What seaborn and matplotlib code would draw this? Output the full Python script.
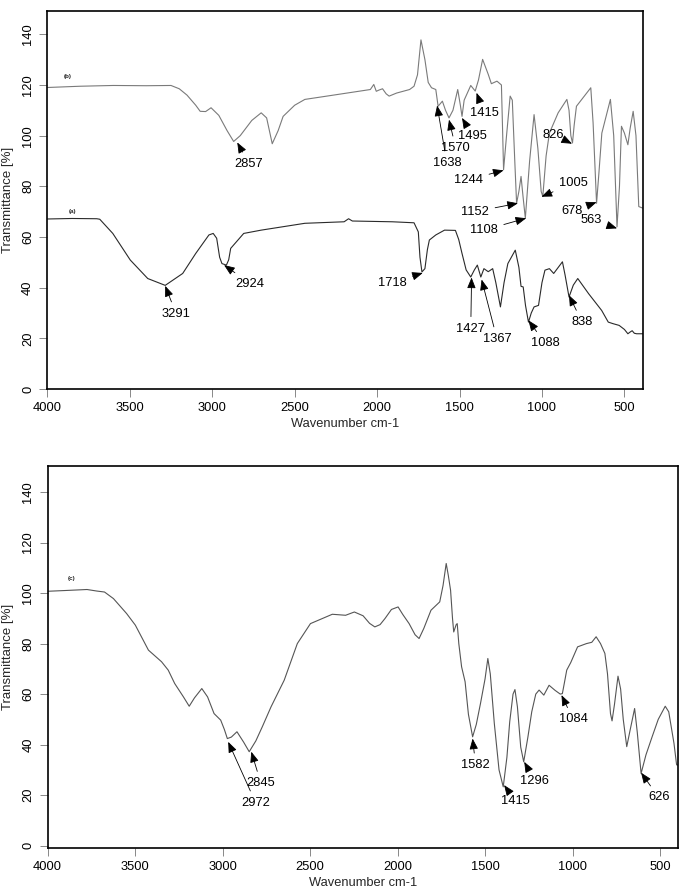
import matplotlib
matplotlib.use("Agg")
import matplotlib.pyplot as plt
import seaborn as sns
import pandas as pd

sns.set_theme(style="white")
plt.rcParams['font.family'] = ['Liberation Sans', 'DejaVu Sans']

# ---- data: spectrum (b), top panel ----
b_wn = [4000, 3800, 3600, 3400, 3250, 3200, 3153, 3100, 3073, 3040, 3007, 2960, 2910, 2870, 2830,
        2760, 2703, 2670, 2636, 2600, 2570, 2500, 2438, 2305, 2173, 2041, 2020, 2005, 1988, 1967,
        1945, 1927, 1882, 1803, 1776, 1755, 1734, 1710, 1690, 1670, 1644, 1630, 1604, 1585, 1564,
        1540, 1511, 1495, 1485, 1472, 1432, 1405, 1385, 1360, 1326, 1307, 1273, 1246, 1240, 1233,
        1215, 1193, 1180, 1165, 1154, 1140, 1127, 1115, 1101, 1075, 1048, 1025, 1005, 995, 975,
        955, 902, 849, 836, 825, 815, 805, 791, 704, 690, 669, 655, 637, 585, 565,
        545, 530, 518, 500, 479, 465, 447, 430, 413, 385]
b_tr = [119.0, 119.5, 119.8, 119.7, 119.8, 118.5, 116.0, 112.0, 109.6, 109.5, 111.0, 108.0, 102.0, 97.7, 100.0,
        106.0, 109.0, 107.0, 96.8, 102.0, 107.6, 112.0, 114.3, 115.6, 116.9, 118.2, 120.2, 117.5, 118.0, 118.5,
        116.5, 115.6, 116.8, 118.2, 119.5, 124.0, 137.8, 130.0, 121.0, 118.9, 118.2, 111.6, 113.6, 110.0, 107.0,
        110.0, 118.2, 112.0, 107.6, 114.0, 119.8, 117.6, 122.0, 130.1, 124.2, 120.5, 121.5, 120.0, 105.0, 86.5,
        100.0, 115.6, 114.0, 90.0, 73.3, 78.0, 83.9, 76.0, 67.4, 90.0, 108.3, 95.0, 78.0, 76.0, 92.0,
        101.0, 109.0, 114.3, 110.0, 100.0, 97.1, 104.0, 111.6, 118.9, 105.0, 73.3, 85.0, 101.0, 114.3, 100.0,
        64.0, 80.0, 103.7, 101.0, 96.4, 103.0, 109.6, 100.0, 72.0, 71.3]

# ---- data: spectrum (a), top panel ----
a_wn = [4000, 3850, 3700, 3682, 3603, 3497, 3391, 3285, 3179, 3100, 3020, 2994, 2973, 2955, 2941,
        2914, 2900, 2888, 2809, 2703, 2438, 2200, 2173, 2150, 1908, 1776, 1750, 1740, 1728, 1710,
        1695, 1683, 1644, 1591, 1525, 1505, 1485, 1460, 1432, 1410, 1392, 1371, 1352, 1326, 1299,
        1280, 1252, 1230, 1207, 1162, 1140, 1127, 1114, 1100, 1082, 1065, 1048, 1021, 1000, 982,
        955, 929, 876, 860, 836, 810, 783, 717, 638, 598, 570, 532, 500, 479, 465,
        453, 440, 426, 385]
a_tr = [67.1, 67.3, 67.2, 67.0, 61.4, 50.9, 43.6, 40.9, 45.6, 53.5, 60.8, 61.4, 59.5, 52.0, 49.5,
        48.9, 51.0, 55.5, 61.4, 62.7, 65.4, 66.0, 67.2, 66.3, 66.0, 65.6, 62.0, 52.0, 46.2, 47.5,
        55.0, 58.8, 60.8, 62.7, 62.6, 59.0, 53.5, 47.0, 44.2, 47.0, 48.9, 44.2, 47.5, 46.3, 47.5,
        42.0, 32.4, 42.0, 49.5, 54.8, 48.0, 40.5, 40.3, 33.0, 26.4, 30.0, 32.4, 33.0, 42.0, 46.9,
        47.5, 45.6, 50.2, 45.0, 36.3, 41.0, 43.6, 37.6, 31.0, 26.4, 25.8, 25.1, 23.5, 21.8, 22.5,
        23.0, 22.0, 21.8, 21.8]

# ---- data: spectrum (c), bottom panel ----
c_wn = [4000, 3900, 3775, 3720, 3675, 3624, 3549, 3499, 3424, 3349, 3311, 3274, 3224, 3191, 3161,
        3119, 3086, 3049, 3011, 2990, 2973, 2950, 2918, 2880, 2848, 2810, 2773, 2723, 2648, 2573,
        2498, 2373, 2297, 2247, 2197, 2160, 2130, 2100, 2072, 2035, 1997, 1970, 1934, 1900, 1877,
        1850, 1809, 1759, 1740, 1722, 1710, 1697, 1686, 1679, 1665, 1659, 1650, 1634, 1614, 1595,
        1571, 1550, 1526, 1500, 1484, 1470, 1447, 1420, 1396, 1375, 1359, 1340, 1329, 1315, 1296,
        1279, 1255, 1233, 1210, 1191, 1164, 1134, 1100, 1070, 1058, 1045, 1033, 1010, 971, 920,
        890, 865, 840, 815, 800, 783, 774, 760, 740, 725, 710, 690, 670, 645, 630,
        608, 580, 545, 510, 470, 450, 420, 405, 395]
c_tr = [100.7, 101.0, 101.4, 100.8, 100.4, 97.8, 91.9, 87.3, 77.4, 72.8, 69.5, 64.2, 58.9, 55.2, 58.5,
        62.2, 58.9, 52.3, 49.7, 46.0, 42.4, 43.0, 45.1, 41.0, 37.2, 41.5, 47.1, 55.0, 65.5, 80.0,
        87.9, 91.6, 91.2, 92.5, 91.0, 88.0, 86.6, 87.5, 89.9, 93.5, 94.5, 91.5, 87.9, 83.5, 82.0,
        86.0, 93.2, 96.5, 103.0, 111.7, 107.0, 101.1, 90.0, 84.6, 87.5, 87.9, 80.0, 70.8, 64.9, 52.0,
        43.1, 48.0, 56.3, 66.0, 74.1, 68.0, 48.4, 30.0, 23.3, 35.0, 49.0, 60.0, 61.8, 55.0, 39.0,
        33.2, 43.0, 53.0, 60.0, 61.6, 59.6, 63.5, 61.5, 60.0, 60.2, 65.0, 69.5, 72.5, 78.7, 80.0,
        80.5, 82.7, 80.0, 76.1, 68.0, 52.3, 49.4, 56.0, 67.1, 62.0, 50.0, 39.2, 46.0, 54.3, 45.0,
        28.6, 36.0, 43.1, 50.0, 55.2, 53.0, 40.5, 32.0, 31.9]

# ---- annotations: label, peak (x, y), text (x, y) ----
top_labels = ["2857", "1638", "1570", "1495", "1415", "1244", "826", "1005", "1152", "678",
              "563", "1108", "1718", "2924", "3291", "1427", "1367", "1088", "838"]
top_tip = [(2848, 97.3), (1636, 111.9), (1564, 106.3), (1485, 107.0), (1397, 116.9), (1233, 86.3),
           (818, 96.8), (1003, 75.9), (1146, 73.3), (669, 73.7), (545, 63.4), (1096, 67.4),
           (1723, 45.8), (2928, 48.9), (3285, 40.7), (1427, 44.0), (1366, 43.2), (1082, 27.1), (836, 37.0)]
top_txt = [(2777, 88.9), (1577, 89.2), (1523, 95.1), (1419, 99.7), (1352, 109.0), (1445, 82.6),
           (929, 100.4), (810, 81.2), (1405, 70.0), (815, 70.3), (703, 66.8), (1352, 62.7),
           (1908, 41.9), (2769, 41.6), (3219, 29.7), (1432, 23.8), (1273, 19.8), (982, 18.1), (757, 26.4)]

bot_labels = ["2845", "2972", "1582", "1415", "1296", "1084", "626"]
bot_tip = [(2836, 37.2), (2968, 41.1), (1571, 42.4), (1391, 24.0), (1276, 33.2), (1063, 59.6), (608, 28.9)]
bot_txt = [(2781, 24.7), (2811, 17.0), (1554, 31.9), (1326, 17.7), (1216, 25.6), (996, 50.0), (507, 19.1)]

yticks = [0, 20, 40, 60, 80, 100, 120, 140]
xticks = [4000, 3500, 3000, 2500, 2000, 1500, 1000, 500]

fig = plt.figure(figsize=(6.83, 8.93), dpi=100)
ax1 = fig.add_axes([0.0693, 0.5644, 0.8727, 0.4233])
ax2 = fig.add_axes([0.0698, 0.0507, 0.9234, 0.4278])

df_top = pd.concat([
    pd.DataFrame({"wn": b_wn, "tr": b_tr, "s": "b"}),
    pd.DataFrame({"wn": a_wn, "tr": a_tr, "s": "a"}),
])
sns.lineplot(data=df_top, x="wn", y="tr", hue="s", palette={"b": "#7a7a7a", "a": "#2a2a2a"},
             estimator=None, sort=False, lw=0.8, legend=False, ax=ax1)
df_bot = pd.DataFrame({"wn": c_wn, "tr": c_tr})
sns.lineplot(data=df_bot, x="wn", y="tr", color="#555555", estimator=None, sort=False,
             lw=0.8, legend=False, ax=ax2)

ax1.set_xlim(4000, 385)
ax1.set_ylim(0, 149.2)
ax2.set_xlim(4000, 395)
ax2.set_ylim(-0.8, 150.4)

arrow_kw = dict(arrowstyle="-|>,head_length=0.7,head_width=0.28", color="black", lw=0.6,
                shrinkA=2, shrinkB=0)

for ax, labels, tips, txts in [(ax1, top_labels, top_tip, top_txt), (ax2, bot_labels, bot_tip, bot_txt)]:
    for lab, tip, txt in zip(labels, tips, txts):
        ax.annotate(lab, xy=tip, xytext=txt, ha="center", va="center", fontsize=9.3,
                    color="black", arrowprops=arrow_kw)
    ax.set_xticks(xticks)
    ax.set_yticks(yticks)
    ax.tick_params(axis="both", which="major", direction="out", length=6, width=0.7,
                   color="#888888", labelsize=9.3, labelcolor="black", left=True, bottom=True)
    for lbl in ax.get_yticklabels():
        lbl.set_rotation(90)
        lbl.set_va("center")
    for sp in ax.spines.values():
        sp.set_color("black")
        sp.set_linewidth(1.2)
    ax.set_xlabel("Wavenumber cm-1", fontsize=9.3, labelpad=3)
    ax.set_ylabel("Transmittance [%]", fontsize=9.5, labelpad=6)

ax1.text(3876, 123.2, "(b)", fontsize=4.5, ha="center", va="center", fontweight="bold")
ax1.text(3846, 70.0, "(a)", fontsize=4.5, ha="center", va="center", fontweight="bold")
ax2.text(3862, 105.7, "(c)", fontsize=4.5, ha="center", va="center", fontweight="bold")

fig.savefig("out.png", dpi=100)
